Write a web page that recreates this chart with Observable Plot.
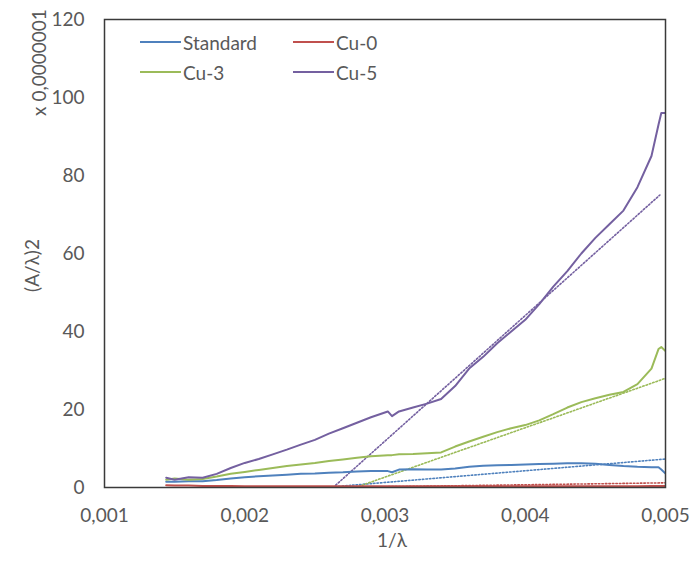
<!DOCTYPE html>
<html>
<head>
<meta charset="utf-8">
<script src="https://cdn.jsdelivr.net/npm/d3@7"></script>
<script src="https://cdn.jsdelivr.net/npm/@observablehq/plot@0.6"></script>
<style>
  html, body { margin: 0; padding: 0; background: #fff; }
  #wrap { position: relative; width: 694px; height: 561px; font-family: Lato, "Open Sans", sans-serif; }
  .leg { position: absolute; font-size: 19px; color: #595959; display: flex; align-items: center; line-height: 1; }
  .leg span.sw { display: inline-block; width: 41px; height: 2px; margin-right: 2px; }
</style>
</head>
<body>
<div id="wrap"></div>
<script>
// ---- data ----
const xValues = [0.00144, 0.0015, 0.0016, 0.0017, 0.0018, 0.0019, 0.0020, 0.0021, 0.0022, 0.0023,
  0.0024, 0.0025, 0.0026, 0.0027, 0.0028, 0.0029, 0.00302, 0.00305, 0.0031, 0.0032,
  0.0033, 0.0034, 0.0035, 0.0036, 0.0037, 0.0038, 0.0039, 0.0040, 0.0041, 0.0042,
  0.0043, 0.0044, 0.0045, 0.0046, 0.0047, 0.0048, 0.0049, 0.00495, 0.00497, 0.0050];

const standardValues = [1.5, 1.5, 1.6, 1.6, 1.9, 2.3, 2.6, 2.9, 3.1, 3.3,
  3.5, 3.6, 3.8, 3.9, 4.1, 4.2, 4.2, 3.9, 4.6, 4.7,
  4.6, 4.6, 4.9, 5.3, 5.6, 5.7, 5.8, 5.9, 6.0, 6.1,
  6.2, 6.2, 6.1, 5.8, 5.5, 5.3, 5.2, 5.2, 4.6, 3.6];

const cu0Values = [0.6, 0.5, 0.5, 0.4, 0.4, 0.4, 0.3, 0.3, 0.3, 0.3,
  0.3, 0.3, 0.3, 0.3, 0.3, 0.3, 0.3, 0.3, 0.3, 0.3,
  0.3, 0.3, 0.3, 0.3, 0.3, 0.3, 0.3, 0.3, 0.3, 0.3,
  0.3, 0.3, 0.3, 0.3, 0.3, 0.3, 0.4, 0.4, 0.4, 0.4];

const cu3Values = [2.0, 2.3, 2.0, 2.2, 2.8, 3.5, 4.0, 4.5, 5.0, 5.5,
  5.9, 6.3, 6.8, 7.2, 7.6, 8.0, 8.3, 8.3, 8.5, 8.6,
  8.8, 9.0, 10.5, 11.8, 13.0, 14.2, 15.2, 16.0, 17.2, 18.8,
  20.5, 21.9, 22.9, 23.8, 24.5, 26.5, 30.5, 35.5, 36.0, 35.0];

const cu5Values = [2.5, 2.0, 2.6, 2.5, 3.5, 5.0, 6.3, 7.3, 8.5, 9.7,
  11.0, 12.2, 13.8, 15.2, 16.6, 18.0, 19.5, 18.3, 19.5, 20.5,
  21.5, 22.7, 26.0, 30.5, 33.5, 37.0, 40.0, 43.0, 47.0, 51.5,
  55.5, 60.0, 64.0, 67.5, 71.0, 77.0, 85.0, 93.0, 96.0, 96.0];

// linear trendlines (start where they leave 0, end at right of data)
const trendStandardX = [0.00257, 0.0050], trendStandardY = [0, 7.3];
const trendCu0X = [0.0026, 0.0050], trendCu0Y = [0, 1.2];
const trendCu3X = [0.00279, 0.0050], trendCu3Y = [0, 28];
const trendCu5X = [0.00263, 0.00496], trendCu5Y = [0, 75];

const seriesNames = ["Standard", "Cu-0", "Cu-3", "Cu-5"];
const seriesColors = ["#4F81BD", "#C0504D", "#9BBB59", "#7460A0"];

const xTicks = [0.001, 0.002, 0.003, 0.004, 0.005];
const yTicks = [0, 20, 40, 60, 80, 100, 120];

const yLabel = "(A/λ)2";
const yMultiplier = "x 0,0000001";
const xLabel = "1/λ";

// ---- build rows ----
const seriesValues = [standardValues, cu0Values, cu3Values, cu5Values];
const rows = [];
seriesNames.forEach((name, i) => {
  xValues.forEach((x, j) => rows.push({series: name, x, y: seriesValues[i][j]}));
});
const trends = [[trendStandardX, trendStandardY], [trendCu0X, trendCu0Y], [trendCu3X, trendCu3Y], [trendCu5X, trendCu5Y]];
const trendRows = [];
seriesNames.forEach((name, i) => {
  trends[i][0].forEach((x, j) => trendRows.push({series: name, x, y: trends[i][1][j]}));
});

const fmt = d => d.toFixed(3).replace(".", ",");
const fontFamily = "Lato, 'Open Sans', sans-serif";

const chart = Plot.plot({
  width: 694,
  height: 561,
  marginLeft: 104,
  marginRight: 29,
  marginTop: 19,
  marginBottom: 74,
  style: {fontFamily, fontSize: "19px", color: "#595959", background: "#fff", overflow: "visible"},
  x: {domain: [0.001, 0.005]},
  y: {domain: [0, 120]},
  color: {domain: seriesNames, range: seriesColors},
  marks: [
    Plot.axisX({ticks: xTicks, tickSize: 0, tickPadding: 21, tickFormat: fmt, label: null, fontSize: 19}),
    Plot.axisY({ticks: yTicks, tickSize: 0, tickPadding: 20, label: null, fontSize: 19}),
    Plot.line(trendRows, {x: "x", y: "y", z: "series", stroke: "series", strokeWidth: 1.6, strokeDasharray: "1.5,2", clip: true}),
    Plot.line(rows, {x: "x", y: "y", z: "series", stroke: "series", strokeWidth: 2, clip: true}),
    Plot.frame({stroke: "#3a3a3a", strokeWidth: 1.5}),
    Plot.text([yLabel], {frameAnchor: "left", textAnchor: "middle", dx: -72, dy: 12, rotate: -90, fontSize: 19, fill: "#595959"}),
    Plot.text([yMultiplier], {frameAnchor: "top-left", textAnchor: "middle", dx: -72, dy: 43, rotate: -90, fontSize: 19, fill: "#595959"}),
    Plot.text([xLabel], {frameAnchor: "bottom", dx: 7, dy: 59, fontSize: 19, fill: "#595959"})
  ]
});

const wrap = document.getElementById("wrap");
wrap.appendChild(chart);

// legend (line swatches inside the plot area)
const legendPos = [[140, 42], [293, 42], [140, 72], [293, 72]];
seriesNames.forEach((name, i) => {
  const d = document.createElement("div");
  d.className = "leg";
  d.style.left = legendPos[i][0] + "px";
  d.style.top = (legendPos[i][1] - 10) + "px";
  d.style.height = "20px";
  const sw = document.createElement("span");
  sw.className = "sw";
  sw.style.background = seriesColors[i];
  d.appendChild(sw);
  d.appendChild(document.createTextNode(name));
  wrap.appendChild(d);
});
</script>
</body>
</html>
